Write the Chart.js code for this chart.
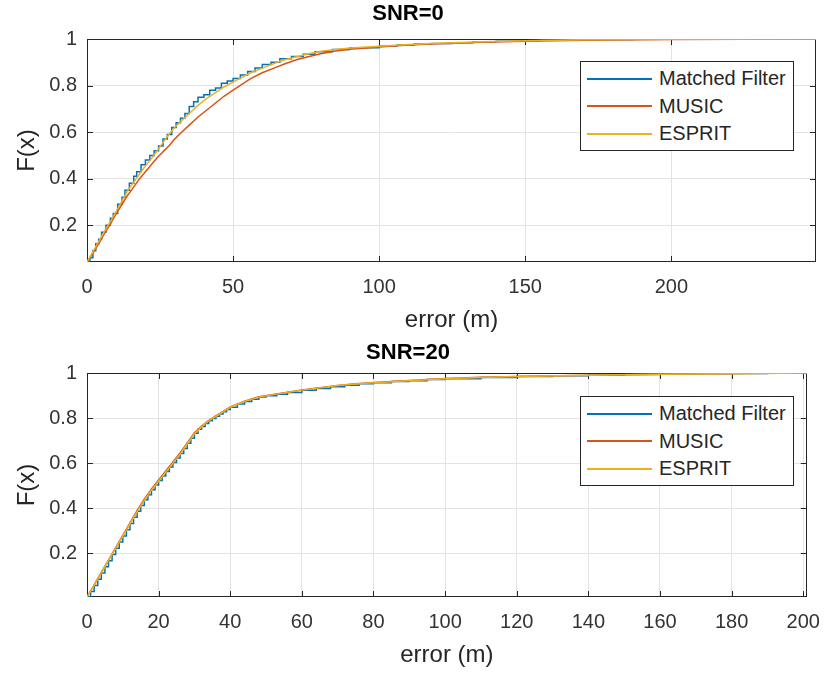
<!DOCTYPE html>
<html>
<head>
<meta charset="utf-8">
<script src="https://cdn.jsdelivr.net/npm/chart.js@4.4.1/dist/chart.umd.min.js"></script>
<style>
    body { margin: 0; background: #fff; width: 833px; height: 675px; position: relative; overflow: hidden; font-family: "Liberation Sans", Arial, sans-serif; }
    .panel { position: absolute; left: 0; width: 833px; }
    .legend { position: absolute; left: 580px; width: 212px; height: 85px; border: 1px solid #262626; background: #fff; font-size: 20px; color: #262626; padding-top: 3px; box-sizing: content-box; }
    .legend .row { height: 27.5px; display: flex; align-items: center; }
    .legend .sw { width: 65px; height: 2px; margin: 0 7px 0 6px; }
</style>
</head>
<body>
<div class="panel" style="top:0;height:337px"><canvas id="snr0" width="833" height="337"></canvas></div>
<div class="panel" style="top:337px;height:338px"><canvas id="snr20" width="833" height="338"></canvas></div>
<div class="legend" id="legend0" style="top:61px"></div>
<div class="legend" id="legend20" style="top:396px"></div>
<script>
const seriesNames = ['Matched Filter', 'MUSIC', 'ESPRIT'];
const seriesColors = ['#0072BD', '#D95319', '#EDB120'];
const yTicks = [0.2, 0.4, 0.6, 0.8, 1];

// SNR = 0
const xTicks0 = [0, 50, 100, 150, 200];
const mfErr0 = [0, 1, 2, 3, 4, 5, 6.5, 8, 9, 10.5, 12, 13, 14.5, 16, 17, 18.5, 20, 21.5, 23, 24.5, 26, 27.5, 29, 30.5, 32, 33.5, 35, 36.5, 38, 40, 42, 44, 46, 48, 50, 52.5, 55, 57.5, 60, 63, 66, 70, 74, 78, 84, 90, 100, 106, 112, 118, 125, 132, 140, 148, 155, 165, 175, 187, 200, 249.5];
const mfCdf0 = [0.042, 0.06, 0.09, 0.12, 0.14, 0.17, 0.20, 0.23, 0.25, 0.29, 0.32, 0.35, 0.38, 0.41, 0.43, 0.46, 0.48, 0.50, 0.52, 0.54, 0.57, 0.59, 0.62, 0.64, 0.66, 0.68, 0.71, 0.73, 0.75, 0.76, 0.78, 0.79, 0.81, 0.82, 0.83, 0.845, 0.86, 0.875, 0.89, 0.90, 0.915, 0.925, 0.935, 0.945, 0.955, 0.962, 0.97, 0.974, 0.978, 0.981, 0.984, 0.987, 0.99, 0.993, 0.995, 0.997, 0.998, 0.999, 1, 1];
const smoothErr0 = [0, 2, 4, 6, 8, 10, 12, 14, 16, 18, 20, 22, 24, 26, 28, 30, 32, 35, 38, 41, 44, 47, 50, 53, 56, 60, 64, 68, 72, 76, 80, 85, 90, 100, 110, 120, 135, 150, 170, 200, 249.5];
const musicCdf0 = [0.042, 0.08, 0.12, 0.165, 0.205, 0.25, 0.29, 0.33, 0.365, 0.40, 0.43, 0.46, 0.49, 0.515, 0.54, 0.57, 0.595, 0.63, 0.665, 0.695, 0.725, 0.755, 0.78, 0.805, 0.83, 0.855, 0.875, 0.895, 0.912, 0.925, 0.937, 0.948, 0.956, 0.966, 0.974, 0.98, 0.986, 0.99, 0.995, 0.998, 1];
const espritCdf0 = [0.042, 0.085, 0.13, 0.175, 0.215, 0.26, 0.305, 0.35, 0.385, 0.42, 0.455, 0.485, 0.52, 0.555, 0.59, 0.62, 0.645, 0.68, 0.715, 0.745, 0.77, 0.795, 0.815, 0.835, 0.855, 0.875, 0.895, 0.912, 0.925, 0.937, 0.947, 0.955, 0.961, 0.969, 0.976, 0.982, 0.988, 0.993, 0.997, 0.999, 1];

// SNR = 20
const xTicks20 = [0, 20, 40, 60, 80, 100, 120, 140, 160, 180, 200];
const mfErr20 = [0, 1, 2, 3, 4, 5, 6, 7, 8, 9, 10, 11, 12, 13, 14, 15, 16, 17, 18, 19, 20, 21, 22, 23, 24, 25, 26, 27, 28, 29, 30, 31, 32, 33, 34, 35, 36, 37, 38, 39, 40, 42, 44, 46, 48, 50, 53, 56, 60, 64, 68, 72, 76, 80, 85, 90, 95, 100, 110, 120, 130, 140, 150, 160, 170, 180, 190, 201];
const mfCdf20 = [0.006, 0.03, 0.057, 0.085, 0.112, 0.14, 0.167, 0.195, 0.222, 0.25, 0.277, 0.304, 0.332, 0.36, 0.387, 0.412, 0.437, 0.46, 0.482, 0.503, 0.523, 0.543, 0.563, 0.583, 0.603, 0.623, 0.643, 0.665, 0.688, 0.71, 0.733, 0.75, 0.763, 0.776, 0.788, 0.798, 0.808, 0.818, 0.828, 0.838, 0.848, 0.862, 0.874, 0.884, 0.893, 0.899, 0.906, 0.913, 0.923, 0.931, 0.939, 0.946, 0.952, 0.957, 0.962, 0.966, 0.971, 0.975, 0.98, 0.985, 0.988, 0.99, 0.993, 0.995, 0.997, 0.998, 0.999, 1];
const smoothErr20 = [0, 2, 4, 6, 8, 10, 12, 14, 16, 18, 20, 22, 24, 26, 28, 30, 32, 34, 36, 38, 40, 44, 48, 52, 56, 60, 65, 70, 75, 80, 90, 100, 110, 120, 140, 160, 180, 201];
const musicCdf20 = [0.006, 0.06, 0.115, 0.17, 0.225, 0.28, 0.335, 0.39, 0.44, 0.485, 0.525, 0.565, 0.605, 0.645, 0.69, 0.735, 0.765, 0.79, 0.81, 0.83, 0.85, 0.875, 0.895, 0.905, 0.915, 0.925, 0.935, 0.945, 0.952, 0.958, 0.967, 0.976, 0.981, 0.985, 0.99, 0.995, 0.998, 1];
const espritCdf20 = [0.006, 0.058, 0.112, 0.168, 0.222, 0.276, 0.33, 0.385, 0.435, 0.48, 0.52, 0.56, 0.60, 0.64, 0.685, 0.73, 0.762, 0.788, 0.808, 0.828, 0.848, 0.874, 0.893, 0.904, 0.914, 0.924, 0.934, 0.944, 0.951, 0.957, 0.966, 0.975, 0.98, 0.985, 0.99, 0.994, 0.997, 1];

const FONT = '"Liberation Sans", Arial, sans-serif';
const AXIS_COLOR = '#262626';

const toPoints = (xs, ys) => xs.map((x, i) => ({ x: x, y: ys[i] }));

// MATLAB-like box with inward tick marks on all four sides
const boxPlugin = {
    id: 'matlabBox',
    beforeDatasetsDraw(chart) {
        const { ctx, chartArea: a, scales: { x, y } } = chart;
        ctx.save();
        ctx.strokeStyle = AXIS_COLOR;
        ctx.lineWidth = 1;
        ctx.strokeRect(Math.round(a.left) + 0.5, Math.round(a.top) + 0.5, Math.round(a.right - a.left) - 1, Math.round(a.bottom - a.top) - 1);
        ctx.beginPath();
        x.ticks.forEach(t => {
            const px = Math.round(x.getPixelForValue(t.value)) + 0.5;
            ctx.moveTo(px, a.bottom); ctx.lineTo(px, a.bottom - 6);
            ctx.moveTo(px, a.top); ctx.lineTo(px, a.top + 6);
        });
        y.ticks.forEach(t => {
            const py = Math.round(y.getPixelForValue(t.value)) + 0.5;
            ctx.moveTo(a.left, py); ctx.lineTo(a.left + 6, py);
            ctx.moveTo(a.right, py); ctx.lineTo(a.right - 6, py);
        });
        ctx.stroke();
        ctx.restore();
    }
};

function makePanel(canvasId, p) {
    // order: lower value is drawn on top, so ESPRIT ends up above the others as in MATLAB
    const datasets = [
        { label: seriesNames[0], data: toPoints(p.mfErr, p.mfCdf), borderColor: seriesColors[0], stepped: true, order: 2 },
        { label: seriesNames[1], data: toPoints(p.smoothErr, p.musicCdf), borderColor: seriesColors[1], order: 1 },
        { label: seriesNames[2], data: toPoints(p.smoothErr, p.espritCdf), borderColor: seriesColors[2], order: 0 }
    ].map(d => Object.assign(d, { showLine: true, pointRadius: 0, borderWidth: 1.5, tension: 0, fill: false }));

    return new Chart(document.getElementById(canvasId), {
        type: 'scatter',
        data: { datasets: datasets },
        plugins: [boxPlugin],
        options: {
            responsive: false,
            animation: false,
            devicePixelRatio: 1,
            layout: { padding: { left: 0, right: 17, top: 0, bottom: p.padBottom } },
            plugins: {
                legend: { display: false },
                tooltip: { enabled: false },
                title: {
                    display: true,
                    text: p.title,
                    color: '#000',
                    font: { family: FONT, size: 22, weight: 'bold' },
                    padding: p.titlePad
                }
            },
            scales: {
                x: {
                    type: 'linear',
                    min: 0,
                    max: p.xMax,
                    afterBuildTicks: s => { s.ticks = p.xTicks.map(v => ({ value: v })); },
                    afterFit: s => { s.height = 73; },
                    grid: { color: '#e3e3e3', drawTicks: false },
                    border: { display: false },
                    ticks: { color: '#333', font: { family: FONT, size: 20 }, padding: 13, maxRotation: 0, autoSkip: false, callback: v => String(v) },
                    title: { display: true, text: 'error (m)', color: AXIS_COLOR, font: { family: FONT, size: 24 }, padding: { top: 0, bottom: 0 } }
                },
                y: {
                    type: 'linear',
                    min: p.yMin,
                    max: 1,
                    afterBuildTicks: s => { s.ticks = yTicks.map(v => ({ value: v })); },
                    afterFit: s => { s.width = 87; },
                    grid: { color: '#e3e3e3', drawTicks: false },
                    border: { display: false },
                    ticks: { color: '#333', font: { family: FONT, size: 20 }, padding: 10, callback: v => String(v) },
                    title: { display: true, text: 'F(x)', color: AXIS_COLOR, font: { family: FONT, size: 24 }, padding: { top: 13, bottom: 0 } }
                }
            }
        }
    });
}

function buildLegend(id) {
    const box = document.getElementById(id);
    seriesNames.forEach((name, i) => {
        const row = document.createElement('div');
        row.className = 'row';
        row.innerHTML = `<span class="sw" style="background:${seriesColors[i]}"></span><span>${name}</span>`;
        box.appendChild(row);
    });
}

makePanel('snr0', {
    title: 'SNR=0', titlePad: { top: 1, bottom: 11.6 }, padBottom: 2,
    xMax: 249.5, yMin: 0.042, xTicks: xTicks0,
    mfErr: mfErr0, mfCdf: mfCdf0, smoothErr: smoothErr0, musicCdf: musicCdf0, espritCdf: espritCdf0
});
makePanel('snr20', {
    title: 'SNR=20', titlePad: { top: 2.8, bottom: 6.8 }, padBottom: 5,
    xMax: 201, yMin: 0.006, xTicks: xTicks20,
    mfErr: mfErr20, mfCdf: mfCdf20, smoothErr: smoothErr20, musicCdf: musicCdf20, espritCdf: espritCdf20
});
buildLegend('legend0');
buildLegend('legend20');
</script>
</body>
</html>
